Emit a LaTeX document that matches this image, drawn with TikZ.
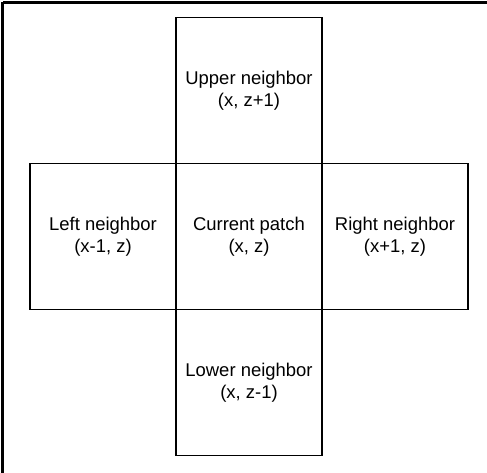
\documentclass[tikz,border=0pt]{standalone}
\usepackage{fontspec}
\setmainfont{Liberation Sans}
\usetikzlibrary{positioning}

\begin{document}
\begin{tikzpicture}[x=0.02cm, y=-0.02cm,
    patch/.style={draw, line width=0.9pt, outer sep=0pt, minimum size=2.92cm,
                  inner sep=0pt, align=center, font=\fontsize{10.5}{12.5}\selectfont}]
    % page area and the clipped frame (top and left edges only)
    \useasboundingbox (0,0) rectangle (487,473);
    \draw[line width=1.3pt] (3,2.5) -- (487,2.5);
    \draw[line width=1.3pt] (2.5,2.5) -- (2.5,473);

    % patch and its four neighbors
    \node[patch] (cur) at (249,236.5) {Current patch\\(x, z)};
    \node[patch, above=0pt of cur] (up) {Upper neighbor\\(x, z+1)};
    \node[patch, below=0pt of cur] (low) {Lower neighbor\\(x, z-1)};
    \node[patch, left=0pt of cur] (left) {Left neighbor\\(x-1, z)};
    \node[patch, right=0pt of cur] (right) {Right neighbor\\(x+1, z)};
\end{tikzpicture}
\end{document}
